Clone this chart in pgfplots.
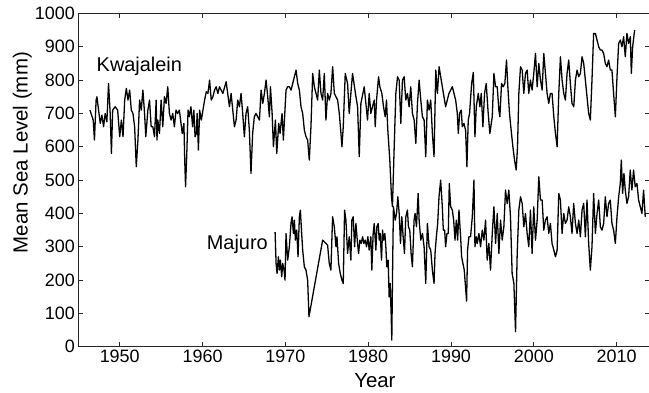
\documentclass[border=0pt]{standalone}
\usepackage{fontspec}
\setmainfont{Liberation Sans}
\usepackage{pgfplots}
\pgfplotsset{compat=1.18}
\begin{document}
\begin{tikzpicture}
\begin{axis}[
  at={(0,0)}, anchor=south west,
  scale only axis,
  width=571.5bp, height=333.4bp,
  xmin=1945, xmax=2014, ymin=0, ymax=1000,
  xtick={1950,1960,...,2010},
  ytick={0,100,...,1000},
  tick align=inside,
  major tick length=5bp,
  axis line style={black!85, line width=0.8pt},
  every tick/.style={black!85, line width=0.7pt},
  /pgf/number format/1000 sep={},
  /pgf/number format/assume math mode=true,
  tick label style={font=\fontsize{18}{18}\selectfont},
  label style={font=\fontsize{20.5}{20.5}\selectfont},
  xlabel={Year},
  xlabel style={at={(axis description cs:0.519,0)}, anchor=north, inner sep=0pt, yshift=-26bp},
  ylabel={Mean Sea Level (mm)},
  ylabel style={at={(axis description cs:-0.081,0.5825)}, anchor=south, inner sep=0pt},
]
\addplot[black, line width=1.3pt, line join=round] coordinates {
(1946.40,710) (1946.60,695) (1946.80,680) (1946.95,620) (1947.15,740) (1947.25,750)
(1947.45,710) (1947.65,670) (1947.85,695) (1948.05,660) (1948.25,700) (1948.45,675)
(1948.65,790) (1948.85,700) (1949.00,580) (1949.15,710) (1949.45,720) (1949.75,710)
(1950.00,630) (1950.20,680) (1950.40,630) (1950.60,740) (1950.80,775) (1951.00,740)
(1951.20,770) (1951.40,710) (1951.60,700) (1951.80,660) (1952.00,540) (1952.20,620)
(1952.40,740) (1952.60,710) (1952.80,770) (1953.00,700) (1953.15,630) (1953.40,710)
(1953.60,740) (1953.80,660) (1954.00,660) (1954.20,630) (1954.40,740) (1954.50,620)
(1954.60,680) (1954.80,640) (1955.00,740) (1955.20,660) (1955.40,750) (1955.60,730)
(1955.80,780) (1956.00,700) (1956.20,680) (1956.40,700) (1956.60,660) (1956.80,710)
(1957.00,700) (1957.20,710) (1957.40,670) (1957.55,640) (1957.75,670) (1957.85,560)
(1957.95,480) (1958.10,580) (1958.25,710) (1958.40,690) (1958.60,720) (1958.80,660)
(1958.95,710) (1959.10,630) (1959.25,640) (1959.35,700) (1959.50,590) (1959.65,710)
(1959.85,680) (1960.05,710) (1960.25,740) (1960.45,765) (1960.65,760) (1960.85,800)
(1961.05,740) (1961.25,750) (1961.45,770) (1961.65,780) (1961.85,760)
(1962.05,780) (1962.45,760) (1962.85,795) (1963.25,720) (1963.45,760) (1963.85,660)
(1964.05,680) (1964.25,740) (1964.45,720) (1964.65,760) (1964.85,700) (1965.05,630)
(1965.25,700) (1965.45,720) (1965.65,650) (1965.85,520) (1966.05,640) (1966.25,690)
(1966.45,700) (1966.87,680)
(1967.07,770) (1967.27,730) (1967.47,760) (1967.67,800) (1967.87,750) (1968.07,690)
(1968.20,780) (1968.40,700) (1968.56,600) (1968.80,680) (1968.96,580) (1969.20,670)
(1969.36,640) (1969.60,700) (1969.76,620) (1970.08,770) (1970.28,780) (1970.48,780)
(1970.69,770) (1970.89,790) (1971.09,810) (1971.29,830) (1971.49,790) (1971.69,770)
(1971.89,720) (1972.09,700) (1972.29,650) (1972.49,630) (1972.69,620) (1972.89,560)
(1973.09,660) (1973.30,820) (1973.50,780) (1973.70,760) (1973.90,740) (1974.10,830)
(1974.30,760) (1974.50,740) (1974.70,820) (1974.90,680) (1975.10,760) (1975.30,740)
(1975.50,760) (1975.71,840) (1975.91,760) (1976.11,750) (1976.31,740) (1976.51,700)
(1976.71,640) (1976.83,600) (1976.99,660) (1977.23,820) (1977.51,790) (1977.71,700)
(1978.11,820) (1978.52,750) (1978.72,720) (1978.92,570) (1979.12,730) (1979.52,780)
(1979.72,730) (1979.92,680) (1980.12,760) (1980.32,700) (1980.52,720) (1980.73,740)
(1980.85,660) (1981.01,740) (1981.25,810) (1981.41,780) (1981.65,760) (1981.85,720)
(1982.05,690) (1982.21,740) (1982.37,650) (1982.61,560) (1982.81,450) (1982.93,420)
(1983.14,600) (1983.34,760) (1983.54,810) (1983.74,800) (1983.94,670) (1984.14,800)
(1984.34,810) (1984.54,740) (1984.74,760) (1984.94,720) (1985.14,780) (1985.34,700)
(1985.55,680) (1985.75,610) (1985.95,730) (1986.15,800) (1986.35,740) (1986.55,690)
(1986.75,680) (1986.95,570) (1987.15,740) (1987.35,710) (1987.55,740) (1987.75,640)
(1987.95,570) (1988.16,830) (1988.36,760) (1988.56,840)
(1988.95,780) (1989.35,720) (1989.75,760) (1990.16,780) (1990.56,740) (1990.76,700)
(1990.88,640) (1991.04,700) (1991.24,710) (1991.36,660) (1991.56,670) (1991.76,650)
(1991.92,540) (1992.08,680) (1992.24,700) (1992.49,790) (1992.69,823) (1992.89,630)
(1993.05,720) (1993.29,760) (1993.49,720) (1993.65,760) (1993.85,660) (1994.05,760)
(1994.25,790) (1994.49,700) (1994.69,640) (1994.98,690) (1995.18,820) (1995.38,780)
(1995.58,780) (1995.78,710) (1995.90,690) (1996.10,790) (1996.30,780) (1996.50,790)
(1996.70,860) (1996.86,780) (1997.06,700) (1997.26,650) (1997.47,600) (1997.67,560)
(1997.87,530) (1998.03,600) (1998.19,760) (1998.39,840) (1998.59,830) (1998.79,760)
(1998.99,820) (1999.19,830) (1999.39,760) (1999.59,800) (1999.79,770) (1999.99,820)
(2000.20,880) (2000.40,780) (2000.60,850) (2000.80,800) (2001.00,770) (2001.20,880)
(2001.40,820) (2001.60,760) (2001.80,730) (2002.00,760) (2002.20,760) (2002.41,690)
(2002.61,640) (2002.81,600) (2003.01,760) (2003.21,870) (2003.41,800) (2003.61,760)
(2003.81,740) (2004.01,820) (2004.21,860) (2004.41,790) (2004.61,730) (2004.82,720)
(2005.02,800) (2005.22,830) (2005.42,810) (2005.62,820) (2005.82,870) (2006.02,850)
(2006.22,800) (2006.42,750) (2006.62,700) (2006.82,680) (2007.02,800) (2007.22,940)
(2007.43,940) (2007.63,920) (2007.83,900) (2008.03,890) (2008.23,890) (2008.43,880)
(2008.63,850) (2008.83,840) (2009.03,860) (2009.23,830) (2009.43,830) (2009.63,760)
(2009.84,690) (2010.04,810) (2010.24,910) (2010.44,920) (2010.64,900) (2010.84,930)
(2011.04,870) (2011.24,940) (2011.44,910) (2011.65,930) (2011.77,820) (2011.93,900)
(2012.17,950)
};
\addplot[black, line width=1.3pt, line join=round] coordinates {
(1968.76,344) (1968.88,250) (1969.00,220) (1969.16,270) (1969.28,230) (1969.40,260)
(1969.56,210) (1969.68,250) (1969.84,230) (1969.96,200) (1970.08,340) (1970.28,260)
(1970.48,300) (1970.68,370) (1970.81,390) (1970.97,340) (1971.09,380) (1971.21,320)
(1971.37,350) (1971.53,270) (1971.69,390) (1971.81,410) (1971.97,340) (1972.09,290)
(1972.29,240) (1972.49,230) (1972.69,200) (1972.85,90) (1974.50,320) (1974.90,310)
(1975.10,305) (1975.30,250) (1975.50,230) (1975.70,390) (1975.91,360) (1976.11,300)
(1976.23,330) (1976.43,250) (1976.63,220) (1976.83,200) (1976.99,190) (1977.15,410)
(1977.31,380) (1977.51,280) (1977.71,330) (1977.91,260) (1978.03,380) (1978.19,390)
(1978.36,300) (1978.52,370) (1978.68,320) (1978.84,280) (1979.00,320) (1979.16,310)
(1979.32,330) (1979.48,310) (1979.64,320) (1979.80,300) (1979.96,330) (1980.12,290)
(1980.32,330) (1980.44,230) (1980.60,340) (1980.73,370) (1980.93,290) (1981.05,360)
(1981.21,370) (1981.33,320) (1981.45,340) (1981.61,260) (1981.73,350) (1981.85,320)
(1982.01,340) (1982.13,300) (1982.25,240) (1982.41,260) (1982.53,150) (1982.65,190)
(1982.77,100) (1982.85,20) (1982.97,280) (1983.05,420) (1983.26,380) (1983.42,400)
(1983.58,450) (1983.74,400) (1983.90,310) (1984.06,390) (1984.22,330) (1984.38,280)
(1984.54,390) (1984.74,410) (1984.86,360) (1985.02,350) (1985.18,280) (1985.34,240)
(1985.54,380) (1985.66,400) (1985.83,360) (1986.03,460) (1986.15,380) (1986.35,320)
(1986.55,340) (1986.75,300) (1986.95,190) (1987.15,370) (1987.35,300) (1987.55,290)
(1987.75,230) (1987.95,190) (1988.07,280) (1988.23,330) (1988.39,370) (1988.55,450)
(1988.75,500) (1988.95,420) (1989.07,350) (1989.23,350) (1989.35,300) (1989.51,340)
(1989.67,340) (1989.79,490) (1989.96,420) (1990.16,410) (1990.32,380) (1990.48,320)
(1990.64,380) (1990.80,320) (1990.96,410) (1991.16,330) (1991.28,270) (1991.44,250)
(1991.60,230) (1991.88,137) (1992.00,290) (1992.16,330) (1992.36,330) (1992.57,390)
(1992.77,500) (1992.89,300) (1993.05,330) (1993.17,310) (1993.37,340) (1993.57,300)
(1993.77,350) (1993.97,320) (1994.17,380) (1994.37,260) (1994.57,310) (1994.77,230)
(1994.98,340) (1995.18,420) (1995.38,310) (1995.58,400) (1995.78,280) (1995.98,380)
(1996.18,320) (1996.38,360) (1996.58,470) (1996.78,430) (1996.98,470) (1997.18,390)
(1997.38,220) (1997.59,190) (1997.79,45) (1997.99,280) (1998.19,410) (1998.39,450)
(1998.59,430) (1998.79,360) (1998.99,400) (1999.19,340) (1999.39,300) (1999.59,410)
(1999.79,280) (1999.99,420) (2000.20,320) (2000.40,380) (2000.60,510) (2000.80,440)
(2001.00,440) (2001.20,350) (2001.40,380) (2001.60,390) (2001.80,340) (2002.00,370)
(2002.20,310) (2002.41,290) (2002.61,270) (2002.81,290) (2003.01,460) (2003.21,440)
(2003.41,340) (2003.61,400) (2003.81,370) (2004.01,380) (2004.21,420) (2004.41,390)
(2004.61,340) (2004.81,430) (2005.02,370) (2005.22,340) (2005.42,380) (2005.62,330)
(2005.82,410) (2006.02,430) (2006.22,330) (2006.42,440) (2006.62,310) (2006.82,230)
(2007.02,300) (2007.22,460) (2007.43,340) (2007.63,400) (2007.83,440) (2008.03,360)
(2008.23,350) (2008.43,370) (2008.63,450) (2008.83,390) (2009.03,430) (2009.23,440)
(2009.43,370) (2009.63,350) (2009.84,310) (2010.04,390) (2010.24,450) (2010.44,490)
(2010.56,560) (2010.72,460) (2010.88,520) (2011.04,470) (2011.24,430) (2011.44,450)
(2011.64,530) (2011.84,470) (2012.04,530) (2012.24,480) (2012.45,490) (2012.65,440)
(2012.85,420) (2013.05,400) (2013.25,470) (2013.45,390)
};
\node[anchor=west, inner sep=0pt, font=\fontsize{20}{20}\selectfont] at (axis cs:1947.2,840) {Kwajalein};
\node[anchor=west, inner sep=0pt, font=\fontsize{20}{20}\selectfont] at (axis cs:1960.5,308) {Majuro};
\end{axis}
\pgfresetboundingbox
\path (-78.3bp,-45.3bp) rectangle (570.7bp,346.8bp);
\end{tikzpicture}
\end{document}
